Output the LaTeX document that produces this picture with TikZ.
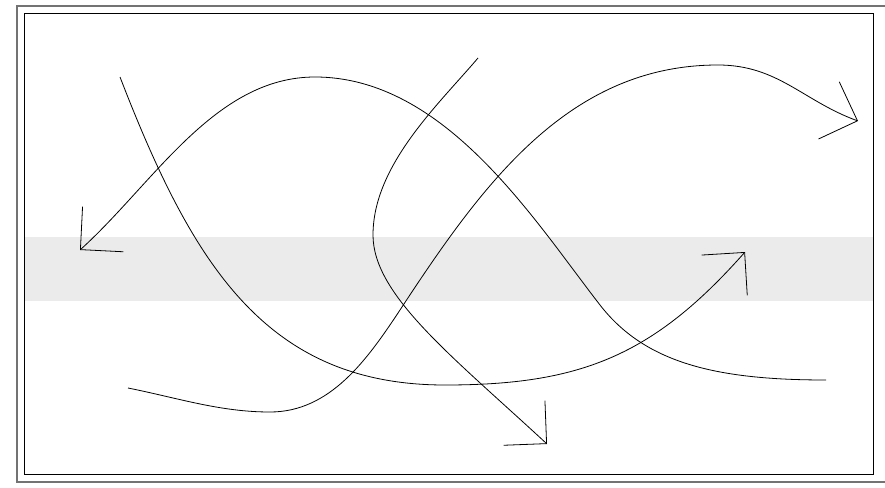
\documentclass[tikz,border=0pt]{standalone}
\usepackage{tikz}
\usetikzlibrary{arrows.meta}

\begin{document}
\begin{tikzpicture}[
  x=1pt, y=-1pt,
  >={Straight Barb[angle=90:43pt]},
  curve/.style={->, line width=0.8pt},
  band/.style={fill=black!8},
  outerframe/.style={draw=black!55, line width=1.3pt},
  innerframe/.style={draw, line width=0.8pt}
]
\useasboundingbox (0,0) rectangle (885,487);

% shaded strip and the double frame (outer one runs off the right edge)
\fill[band] (24,237) rectangle (873,301);
\draw[outerframe] (905,6) -- (17,6) -- (17,482) -- (905,482);
\draw[innerframe] (24,13) rectangle (873,474);

% end points of the four curves
\coordinate (a0) at (120,77);
\coordinate (a1) at (445,385);
\coordinate (a2) at (745,252);
\coordinate (b0) at (128,388);
\coordinate (b1) at (270,412);
\coordinate (b2) at (400,310);
\coordinate (b3) at (718,65);
\coordinate (b4) at (858,121);
\coordinate (c0) at (478,58);
\coordinate (c1) at (373,235);
\coordinate (c2) at (547,444);
\coordinate (d0) at (826,380);
\coordinate (d1) at (600,305);
\coordinate (d2) at (315,77);
\coordinate (d3) at (80,250);

\draw[curve] (a0) .. controls +(72,186) and +(-180,0) .. (a1)
  .. controls +(135,0) and +(-92,104) .. (a2);
\draw[curve] (b0) .. controls +(50,10) and +(-50,0) .. (b1)
  .. controls +(60,0) and +(-33,50) .. (b2)
  .. controls +(82,-125) and +(-150,0) .. (b3)
  .. controls +(60,0) and +(-55,-20) .. (b4);
\draw[curve] (c0) .. controls +(-39,46) and +(0,-70) .. (c1)
  .. controls +(0,60) and +(-95,-88) .. (c2);
\draw[curve] (d0) .. controls +(-110,0) and +(45,58) .. (d1)
  .. controls +(-66,-85) and +(130,0) .. (d2)
  .. controls +(-100,0) and +(74,-67) .. (d3);
\end{tikzpicture}
\end{document}
